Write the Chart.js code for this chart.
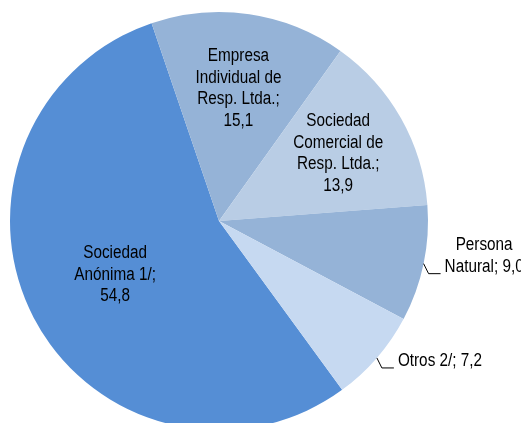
<!DOCTYPE html>
<html>
<head>
<meta charset="utf-8">
<script src="https://cdn.jsdelivr.net/npm/chart.js@4/dist/chart.umd.min.js"></script>
<style>
  html, body { margin: 0; padding: 0; background: #fff; overflow: hidden; }
  #wrap { width: 521px; height: 440px; position: relative; }
</style>
</head>
<body>
<div id="wrap"><canvas id="pie"></canvas></div>
<script>
// Categories and values (percent)
const categories = ['Sociedad Anónima 1/', 'Empresa Individual de Resp. Ltda.', 'Sociedad Comercial de Resp. Ltda.', 'Persona Natural', 'Otros 2/'];
const values = [54.8, 15.1, 13.9, 9.0, 7.2];
// how each category label wraps in the picture
const categoryLines = [
  ['Sociedad', 'Anónima 1/'],
  ['Empresa', 'Individual de', 'Resp. Ltda.'],
  ['Sociedad', 'Comercial de', 'Resp. Ltda.'],
  ['Persona', 'Natural'],
  ['Otros 2/']
];
const valueOnOwnLine = [true, true, true, false, false];
const sliceColors = ['#558ed5', '#95b3d7', '#b9cde5', '#95b3d7', '#c6d9f1'];

// label placement: inside (radius fraction) or outside with leader line
const labelRadius = [0.56, 0.64, 0.655, null, null];

function fmt(v) {
  return v.toFixed(1).replace('.', ',');
}

function labelText(i) {
  const lines = categoryLines[i].slice();
  const last = lines.length - 1;
  if (valueOnOwnLine[i]) {
    lines[last] += ';';
    lines.push(fmt(values[i]));
  } else {
    lines[last] += '; ' + fmt(values[i]);
  }
  return lines;
}

const FONT_PX = 15.3;
const STRETCH = 1.18;
const LINE_H = 21.5;

function drawLine(ctx, text, x, y, align) {
  ctx.save();
  ctx.translate(x, y);
  ctx.scale(1, STRETCH);
  ctx.textAlign = align;
  ctx.textBaseline = 'middle';
  ctx.fillText(text, 0, 0);
  ctx.restore();
}

const pieLabels = {
  id: 'pieLabels',
  afterDatasetsDraw(chart) {
    const ctx = chart.ctx;
    const arcs = chart.getDatasetMeta(0).data;
    ctx.save();
    ctx.font = FONT_PX + 'px "Liberation Sans", Arial, sans-serif';
    ctx.fillStyle = '#000';
    arcs.forEach((arc, i) => {
      const lines = labelText(i);
      const mid = (arc.startAngle + arc.endAngle) / 2;
      if (labelRadius[i] !== null) {
        const r = arc.outerRadius * labelRadius[i];
        const cx = arc.x + Math.cos(mid) * r;
        const cy = arc.y + Math.sin(mid) * r;
        const top = cy - (lines.length - 1) * LINE_H / 2;
        lines.forEach((t, k) => drawLine(ctx, t, cx, top + k * LINE_H, 'center'));
      } else {
        // leader line from the slice edge
        const x0 = arc.x + Math.cos(mid) * arc.outerRadius;
        const y0 = arc.y + Math.sin(mid) * arc.outerRadius;
        const x1 = x0 + 5, y1 = y0 + 10;
        const x2 = x1 + 12;
        ctx.strokeStyle = '#000';
        ctx.lineWidth = 1;
        ctx.beginPath();
        ctx.moveTo(x0, y0);
        ctx.lineTo(x1, y1);
        ctx.lineTo(x2, y1);
        ctx.stroke();
        const widths = lines.map(t => ctx.measureText(t).width);
        const blockW = Math.max(...widths);
        const cx = x2 + 4 + blockW / 2;
        const lastY = y1 - 7;
        lines.forEach((t, k) => drawLine(ctx, t, cx, lastY - (lines.length - 1 - k) * LINE_H, 'center'));
      }
    });
    ctx.restore();
  }
};

new Chart(document.getElementById('pie'), {
  type: 'pie',
  data: {
    labels: categories,
    datasets: [{
      data: values,
      backgroundColor: sliceColors,
      borderWidth: 0,
      hoverOffset: 0
    }]
  },
  options: {
    responsive: true,
    maintainAspectRatio: false,
    animation: false,
    rotation: 143.9,
    layout: { padding: { left: 10, right: 93, top: 12, bottom: 10 } },
    plugins: {
      legend: { display: false },
      tooltip: { enabled: false }
    }
  },
  plugins: [pieLabels]
});
</script>
</body>
</html>
